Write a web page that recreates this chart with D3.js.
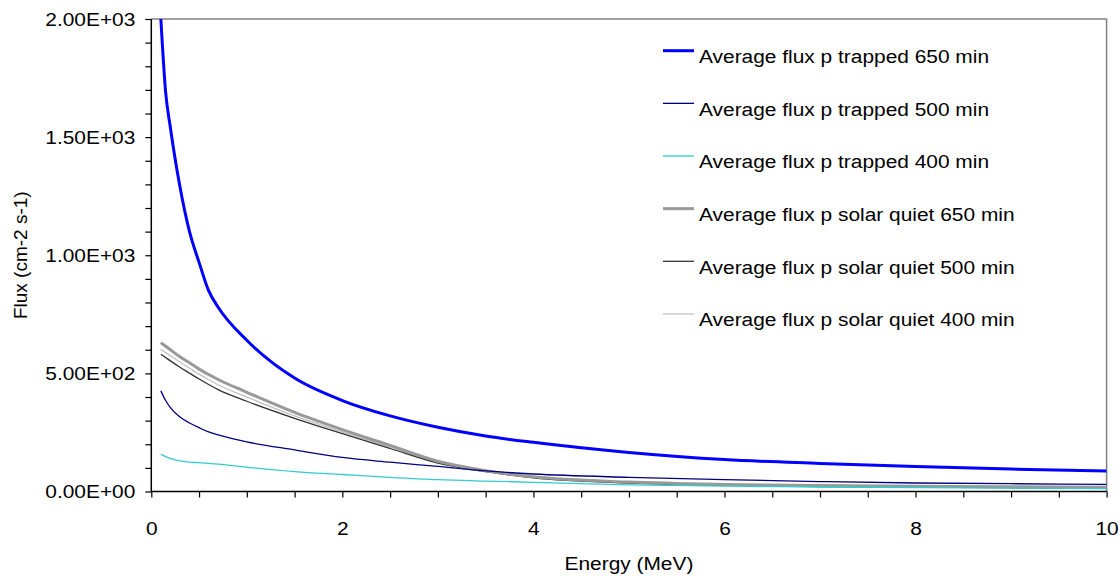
<!DOCTYPE html>
<html>
<head>
<meta charset="utf-8">
<script src="https://cdn.jsdelivr.net/npm/d3@7"></script>
<style>
  html, body { margin: 0; padding: 0; background: #fff; }
  svg text { font-family: "Liberation Sans", Arial, sans-serif; fill: #000; }
</style>
</head>
<body>
<svg id="chart" width="1120" height="576"></svg>
<script>
// ---------- data ----------
const energy = [0.1, 0.15, 0.2, 0.3, 0.4, 0.5, 0.6, 0.7, 1.0, 1.5, 2.0, 2.5, 3.0, 3.5, 4.0, 5.0, 6.0, 7.0, 8.0, 9.0, 10.0];

const trapped650 = [2000, 1690, 1540, 1290, 1100, 970, 850, 780, 640, 480, 385, 320, 272, 235, 208, 165, 135, 119, 106, 95, 87];
const trapped500 = [426, 385, 355, 315, 290, 270, 252, 240, 210, 176, 144, 124, 106, 87, 74, 60, 50, 42, 36, 33, 30];
const trapped400 = [157, 148, 140, 130, 124, 122, 119, 116, 103, 84, 72, 60, 50, 44, 39, 28, 23, 19, 17, 14, 12];
const solarQuiet650 = [630, 615, 600, 570, 545, 518, 495, 474, 420, 335, 262, 195, 128, 88, 62, 40, 30, 25, 22, 20, 18];
const solarQuiet500 = [581, 567, 553, 526, 501, 476, 453, 431, 382, 310, 245, 182, 120, 84, 58, 36, 26, 21, 18, 16, 14];
const solarQuiet400 = [602, 588, 575, 548, 522, 497, 474, 452, 400, 320, 252, 188, 124, 86, 60, 38, 28, 23, 20, 18, 16];

const seriesNames = [
  "Average flux p trapped 650 min",
  "Average flux p trapped 500 min",
  "Average flux p trapped 400 min",
  "Average flux p solar quiet 650 min",
  "Average flux p solar quiet 500 min",
  "Average flux p solar quiet 400 min"
];
const seriesValues = [trapped650, trapped500, trapped400, solarQuiet650, solarQuiet500, solarQuiet400];

const yTickValues = [0, 500, 1000, 1500, 2000];
const yTickLabels = ["0.00E+00", "5.00E+02", "1.00E+03", "1.50E+03", "2.00E+03"];
const yMinorTicks = [0, 100, 200, 300, 400, 500, 600, 700, 800, 900, 1000, 1100, 1200, 1300, 1400, 1500, 1600, 1700, 1800, 1900, 2000];
const xTickValues = [0, 2, 4, 6, 8, 10];
const xTickLabels = ["0", "2", "4", "6", "8", "10"];
const xMinorTicks = [0, 0.5, 1, 1.5, 2, 2.5, 3, 3.5, 4, 4.5, 5, 5.5, 6, 6.5, 7, 7.5, 8, 8.5, 9, 9.5, 10];

const xTitle = "Energy (MeV)";
const yTitle = "Flux (cm-2 s-1)";

// ---------- styles ----------
const styles = [
  { color: "#0000FF", width: 3 },
  { color: "#000080", width: 1.3 },
  { color: "#33CCCC", width: 1.3 },
  { color: "#999999", width: 3 },
  { color: "#333333", width: 1.3 },
  { color: "#C0C0C0", width: 1.3 }
];
const FONT = 19;
const STRETCH = 1.1;

// ---------- layout ----------
const svg = d3.select("#chart");
const pLeft = 151.3, pRight = 1106.6, pTop = 19, pBottom = 491.5;

const x = d3.scaleLinear().domain([0, 10]).range([pLeft, pRight]);
const y = d3.scaleLinear().domain([0, 2000]).range([pBottom, pTop]);

svg.append("defs").append("clipPath").attr("id", "plotclip")
  .append("rect").attr("x", pLeft).attr("y", pTop).attr("width", pRight - pLeft).attr("height", pBottom - pTop);

// frame (top + right, gray)
svg.append("line").attr("x1", pLeft).attr("x2", pRight).attr("y1", pTop).attr("y2", pTop)
  .attr("stroke", "#808080").attr("stroke-width", 1.5);
svg.append("line").attr("x1", pRight).attr("x2", pRight).attr("y1", pTop).attr("y2", pBottom)
  .attr("stroke", "#808080").attr("stroke-width", 1.5);

// series
const lineGen = d3.line().x(d => x(d[0])).y(d => y(d[1])).curve(d3.curveMonotoneX);
const plot = svg.append("g").attr("clip-path", "url(#plotclip)");
for (let i = seriesValues.length - 1; i >= 0; i--) {
  const pts = energy.map((e, k) => [e, seriesValues[i][k]]);
  plot.append("path").datum(pts)
    .attr("d", lineGen)
    .attr("fill", "none")
    .attr("stroke", styles[i].color)
    .attr("stroke-width", styles[i].width)
    .attr("stroke-linejoin", "round");
}

// axes
const yAxis = d3.axisLeft(y)
  .tickValues(yMinorTicks)
  .tickSize(6)
  .tickPadding(8.5)
  .tickFormat(v => { const i = yTickValues.indexOf(v); return i >= 0 ? yTickLabels[i] : ""; });
const gy = svg.append("g").attr("transform", `translate(${pLeft},0)`).call(yAxis);
gy.select(".domain").attr("stroke", "#000").attr("stroke-width", 1.5).attr("d", `M0,${pBottom}V${pTop}`);
gy.selectAll(".tick line").attr("stroke", "#000").attr("stroke-width", 1.2);
gy.selectAll(".tick text").attr("font-size", FONT).attr("font-family", "Liberation Sans, Arial, sans-serif")
  .attr("transform", `scale(${STRETCH},1)`);

const xAxis = d3.axisBottom(x)
  .tickValues(xMinorTicks)
  .tickSize(6)
  .tickPadding(24)
  .tickFormat(v => { const i = xTickValues.indexOf(v); return i >= 0 ? xTickLabels[i] : ""; });
const gx = svg.append("g").attr("transform", `translate(0,${pBottom})`).call(xAxis);
gx.select(".domain").attr("stroke", "#000").attr("stroke-width", 1.5).attr("d", `M${pLeft},0H${pRight}`);
gx.selectAll(".tick line").attr("stroke", "#000").attr("stroke-width", 1.2);
gx.selectAll(".tick text").attr("font-size", FONT).attr("font-family", "Liberation Sans, Arial, sans-serif")
  .attr("transform", `scale(${STRETCH},1)`);

// axis titles
svg.append("text")
  .attr("transform", `translate(${(pLeft + pRight) / 2},570) scale(${STRETCH},1)`)
  .attr("text-anchor", "middle").attr("font-size", FONT).text(xTitle);
svg.append("text")
  .attr("transform", `translate(27,${(pTop + pBottom) / 2}) rotate(-90)`)
  .attr("text-anchor", "middle").attr("font-size", FONT).text(yTitle);

// legend
const legY0 = 50.7, legStep = 52.65, legX1 = 663, legX2 = 694, legTx = 699;
seriesNames.forEach((name, i) => {
  const ly = legY0 + i * legStep;
  svg.append("line").attr("x1", legX1).attr("x2", legX2).attr("y1", ly).attr("y2", ly)
    .attr("stroke", styles[i].color).attr("stroke-width", styles[i].width);
  svg.append("text")
    .attr("transform", `translate(${legTx},${ly + 12.4}) scale(${STRETCH},1)`)
    .attr("font-size", FONT).text(name);
});
</script>
</body>
</html>
